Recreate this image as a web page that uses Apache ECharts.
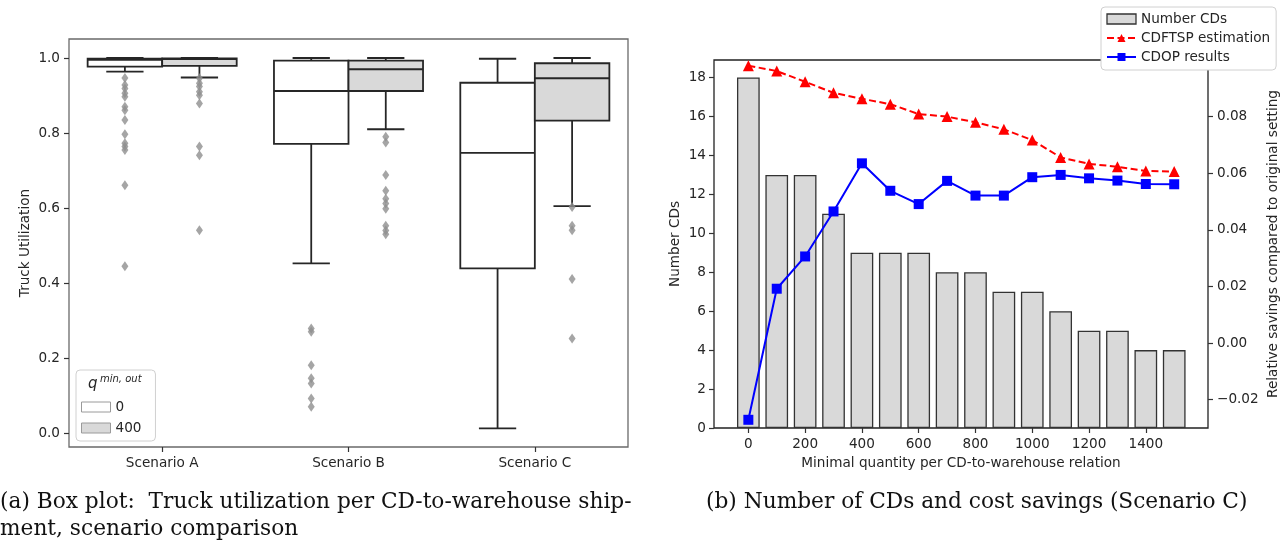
<!DOCTYPE html>
<html>
<head>
<meta charset="utf-8">
<script src="https://cdn.jsdelivr.net/npm/echarts@6/dist/echarts.min.js"></script>
<style>
  html, body { margin: 0; padding: 0; background: #fff; }
  #chart { width: 1287px; height: 547px; }
</style>
</head>
<body>
<div id="chart"></div>
<script>
// (a) box plot data: [min whisker, Q1, median, Q3, max whisker]
const scenarios = ['Scenario A', 'Scenario B', 'Scenario C']
const boxQ0 = [
  [0.9635, 0.977, 0.995, 0.998, 1.0],
  [0.4525, 0.771, 0.912, 0.993, 1.0],
  [0.0125, 0.439, 0.747, 0.934, 0.998]
]
const boxQ400 = [
  [0.948, 0.979, 0.997, 0.999, 1.0],
  [0.81, 0.912, 0.97, 0.993, 1.0],
  [0.605, 0.833, 0.946, 0.986, 1.0]
]
const outQ0 = [
  [0.947, 0.928, 0.919, 0.906, 0.897, 0.870, 0.861, 0.835, 0.797, 0.773, 0.764, 0.755, 0.661, 0.445],
  [0.279, 0.270, 0.181, 0.146, 0.132, 0.092, 0.070],
  []
]
const outQ400 = [
  [0.946, 0.933, 0.924, 0.910, 0.901, 0.879, 0.764, 0.741, 0.541],
  [0.790, 0.775, 0.688, 0.646, 0.625, 0.612, 0.598, 0.553, 0.540, 0.530],
  [0.603, 0.553, 0.541, 0.411, 0.252]
]
const utilTicks = [0, 0.2, 0.4, 0.6, 0.8, 1.0]

// (b) number of CDs and savings
const minQuantity = [0, 100, 200, 300, 400, 500, 600, 700, 800, 900, 1000, 1100, 1200, 1300, 1400, 1500]
const numberCDs = [18, 13, 13, 11, 9, 9, 9, 8, 8, 7, 7, 6, 5, 5, 4, 4]
const cdftspEstimation = [0.098, 0.0961, 0.0923, 0.0884, 0.0863, 0.0844, 0.0809, 0.0800, 0.0780, 0.0755, 0.0717, 0.0656, 0.0633, 0.0623, 0.0608, 0.0606]
const cdopResults = [-0.0271, 0.0192, 0.0306, 0.0465, 0.0635, 0.0538, 0.0491, 0.0573, 0.0521, 0.0521, 0.0586, 0.0594, 0.0582, 0.0574, 0.0562, 0.0561]
const quantityTicks = [0, 200, 400, 600, 800, 1000, 1200, 1400]
const savingsTicks = [-0.02, 0, 0.02, 0.04, 0.06, 0.08]

const FONT = 'DejaVu Sans'
const TXT = '#262626'
const EDGE = '#262626'
const HUE_OFFSET = 0.2
const BOX_W = 0.4

const chart = echarts.init(document.getElementById('chart'))

function boxData(stats, offset) {
  return stats.map((s, i) => [i + offset].concat(s))
}

function flierData(lists, offset) {
  const out = []
  lists.forEach((vals, i) => vals.forEach(v => out.push([i + offset, v])))
  return out
}

// draw one seaborn style box
function renderBox(fill) {
  return function (params, api) {
    const x = api.value(0)
    const pMin = api.coord([x, api.value(1)])
    const pQ1 = api.coord([x, api.value(2)])
    const pMed = api.coord([x, api.value(3)])
    const pQ3 = api.coord([x, api.value(4)])
    const pMax = api.coord([x, api.value(5)])
    const w = api.size([BOX_W, 0])[0]
    const cx = pMed[0]
    const line = { stroke: EDGE, lineWidth: 1.8 }
    return {
      type: 'group',
      children: [
        { type: 'line', shape: { x1: cx, y1: pQ1[1], x2: cx, y2: pMin[1] }, style: line },
        { type: 'line', shape: { x1: cx, y1: pQ3[1], x2: cx, y2: pMax[1] }, style: line },
        { type: 'line', shape: { x1: cx - w / 4, y1: pMin[1], x2: cx + w / 4, y2: pMin[1] }, style: line },
        { type: 'line', shape: { x1: cx - w / 4, y1: pMax[1], x2: cx + w / 4, y2: pMax[1] }, style: line },
        { type: 'rect', shape: { x: cx - w / 2, y: pQ3[1], width: w, height: pQ1[1] - pQ3[1] },
          style: { fill: fill, stroke: EDGE, lineWidth: 1.8 } },
        { type: 'line', shape: { x1: cx - w / 2, y1: pMed[1], x2: cx + w / 2, y2: pMed[1] }, style: line }
      ]
    }
  }
}

const labelStyle = { color: TXT, fontFamily: FONT, fontSize: 13.6 }
const tickStyle = { color: '#333', width: 1.2 }
const captionFont = '21.7px "DejaVu Serif"'

const option = {
  animation: false,
  textStyle: { fontFamily: FONT },
  grid: [
    { left: 69, top: 39, width: 559, height: 408, show: true, borderColor: '#6a6a6a', borderWidth: 1.3, backgroundColor: '#fff' },
    { left: 714, top: 60, width: 494, height: 368, show: true, borderColor: '#222', borderWidth: 1.3, backgroundColor: '#fff' }
  ],
  legend: [
    {
      left: 76, top: 370, orient: 'vertical',
      padding: [30, 14, 6, 5],
      itemWidth: 29, itemHeight: 10, itemGap: 7, itemTextGap: 11,
      backgroundColor: '#fff', borderColor: '#d0d0d0', borderWidth: 1, borderRadius: 4,
      textStyle: labelStyle,
      data: [
        { name: '0', icon: 'rect', itemStyle: { color: '#fff', borderColor: '#9a9a9a', borderWidth: 1 } },
        { name: '400', icon: 'rect', itemStyle: { color: '#d9d9d9', borderColor: '#9a9a9a', borderWidth: 1 } }
      ]
    },
    {
      left: 1101, top: 7, orient: 'vertical',
      padding: [5, 6, 6, 5],
      itemWidth: 29, itemHeight: 10, itemGap: 5, itemTextGap: 11,
      backgroundColor: '#fff', borderColor: '#d0d0d0', borderWidth: 1, borderRadius: 4,
      textStyle: labelStyle,
      data: [
        { name: 'Number CDs', icon: 'rect', itemStyle: { color: '#d9d9d9', borderColor: '#333', borderWidth: 1.3 } },
        { name: 'CDFTSP estimation' },
        { name: 'CDOP results' }
      ]
    }
  ],
  xAxis: [
    {
      gridIndex: 0, type: 'value', min: -0.5, max: 2.5,
      axisLine: { show: false, onZero: false },
      axisTick: { show: true, length: 5, customValues: [0, 1, 2], lineStyle: tickStyle },
      axisLabel: { ...labelStyle, margin: 9, customValues: [0, 1, 2], formatter: v => scenarios[Math.round(v)] },
      splitLine: { show: false }
    },
    {
      gridIndex: 1, type: 'value', min: -121, max: 1619,
      name: 'Minimal quantity per CD-to-warehouse relation',
      nameLocation: 'middle', nameGap: 28, nameTextStyle: labelStyle,
      axisLine: { show: false, onZero: false },
      axisTick: { show: true, length: 5, customValues: quantityTicks, lineStyle: tickStyle },
      axisLabel: { ...labelStyle, margin: 9, customValues: quantityTicks, formatter: v => String(v) },
      splitLine: { show: false }
    }
  ],
  yAxis: [
    {
      gridIndex: 0, type: 'value', min: -0.0373, max: 1.0507,
      name: 'Truck Utilization', nameLocation: 'middle', nameGap: 37, nameTextStyle: labelStyle,
      axisLine: { show: false, onZero: false },
      axisTick: { show: true, length: 5, customValues: utilTicks, lineStyle: tickStyle },
      axisLabel: { ...labelStyle, margin: 9, customValues: utilTicks, formatter: v => v.toFixed(1) },
      splitLine: { show: false }
    },
    {
      gridIndex: 1, type: 'value', min: 0, max: 18.9, interval: 2,
      name: 'Number CDs', nameLocation: 'middle', nameGap: 32, nameTextStyle: labelStyle,
      axisLine: { show: false, onZero: false },
      axisTick: { show: true, length: 5, lineStyle: tickStyle },
      axisLabel: { ...labelStyle, margin: 8, showMaxLabel: false },
      splitLine: { show: false }
    },
    {
      gridIndex: 1, type: 'value', position: 'right', min: -0.03, max: 0.1,
      name: 'Relative savings compared to original setting', nameLocation: 'middle', nameGap: 58,
      nameTextStyle: labelStyle,
      axisLine: { show: false, onZero: false },
      axisTick: { show: true, length: 5, customValues: savingsTicks, lineStyle: tickStyle },
      axisLabel: {
        ...labelStyle, margin: 9, customValues: savingsTicks,
        formatter: v => (v < 0 ? '\u2212' : '') + Math.abs(v).toFixed(2)
      },
      splitLine: { show: false }
    }
  ],
  series: [
    {
      name: '0', type: 'custom', xAxisIndex: 0, yAxisIndex: 0,
      itemStyle: { color: '#fff' },
      renderItem: renderBox('#ffffff'),
      encode: { x: 0, y: [1, 2, 3, 4, 5] },
      data: boxData(boxQ0, -HUE_OFFSET)
    },
    {
      name: '400', type: 'custom', xAxisIndex: 0, yAxisIndex: 0,
      itemStyle: { color: '#d9d9d9' },
      renderItem: renderBox('#d9d9d9'),
      encode: { x: 0, y: [1, 2, 3, 4, 5] },
      data: boxData(boxQ400, HUE_OFFSET)
    },
    {
      name: 'fliers', type: 'scatter', xAxisIndex: 0, yAxisIndex: 0,
      symbol: 'diamond', symbolSize: [7, 10],
      itemStyle: { color: '#8f8f8f' },
      data: flierData(outQ0, -HUE_OFFSET).concat(flierData(outQ400, HUE_OFFSET))
    },
    {
      name: 'Number CDs', type: 'bar', xAxisIndex: 1, yAxisIndex: 1,
      barWidth: '80%',
      itemStyle: { color: '#d9d9d9', borderColor: '#333', borderWidth: 1.3 },
      data: minQuantity.map((q, i) => [q, numberCDs[i]])
    },
    {
      name: 'CDFTSP estimation', type: 'line', xAxisIndex: 1, yAxisIndex: 2,
      symbol: 'triangle', symbolSize: 11,
      itemStyle: { color: '#ff0000' },
      lineStyle: { color: '#ff0000', width: 2, type: [7, 3.5] },
      data: minQuantity.map((q, i) => [q, cdftspEstimation[i]])
    },
    {
      name: 'CDOP results', type: 'line', xAxisIndex: 1, yAxisIndex: 2,
      symbol: 'rect', symbolSize: 10,
      itemStyle: { color: '#0000ff' },
      lineStyle: { color: '#0000ff', width: 2 },
      data: minQuantity.map((q, i) => [q, cdopResults[i]])
    }
  ],
  graphic: [
    // legend title q^{min,out}
    { type: 'text', left: 88, top: 377, z: 100, style: { text: 'q', font: 'italic 15px "DejaVu Sans"', fill: TXT } },
    { type: 'text', left: 100, top: 374, z: 100, style: { text: 'min, out', font: 'italic 10px "DejaVu Sans"', fill: TXT } },
    // captions
    { type: 'text', left: 0, top: 491, style: { text: '(a) Box plot:  Truck utilization per CD-to-warehouse ship-', font: captionFont, fill: '#111' } },
    { type: 'text', left: 0, top: 518, style: { text: 'ment, scenario comparison', font: captionFont, fill: '#111' } },
    { type: 'text', left: 706, top: 491, style: { text: '(b) Number of CDs and cost savings (Scenario C)', font: captionFont, fill: '#111' } }
  ]
}

chart.setOption(option)
</script>
</body>
</html>
